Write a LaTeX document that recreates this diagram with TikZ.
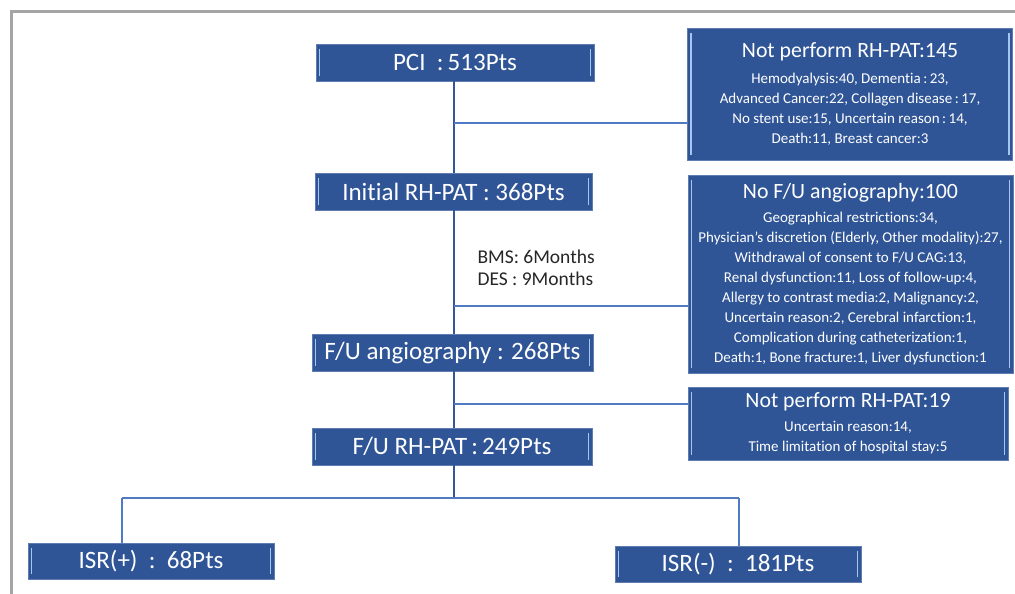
\documentclass[tikz,border=0pt]{standalone}
\usepackage{fontspec}
\setmainfont{Carlito}[Ligatures=NoCommon]
\usepackage{tikz}

\definecolor{boxblue}{RGB}{47,85,151}
\definecolor{boxedge}{RGB}{95,125,178}
\definecolor{bevelblue}{RGB}{165,198,240}
\definecolor{trunkblue}{RGB}{50,88,155}
\definecolor{linkblue}{RGB}{80,122,195}
\definecolor{framegray}{RGB}{165,165,165}

\newcommand{\headtxt}{\fontsize{21.8}{25}\selectfont}

\begin{document}
\begin{tikzpicture}[x=1pt,y=-1pt,
    every node/.append style={font=\fontsize{15}{20}\selectfont},
    box/.style={fill=boxblue,draw=boxedge,line width=0.5pt,text=white,
      inner sep=0pt,align=center,
      path picture={
        \draw[bevelblue,line width=1.6pt]
          ([xshift=3.5pt,yshift=-5pt]path picture bounding box.north west) --
          ([xshift=3.5pt,yshift=5pt]path picture bounding box.south west);
        \draw[bevelblue,line width=1.6pt]
          ([xshift=-3.5pt,yshift=-5pt]path picture bounding box.north east) --
          ([xshift=-3.5pt,yshift=5pt]path picture bounding box.south east);
      }},
    trunk/.style={draw=trunkblue,line width=2pt},
    link/.style={draw=linkblue,line width=1.3pt}]
  \tikzstyle{stepbox} = [box,minimum height=37pt,font=\fontsize{25}{30}\selectfont]
  \tikzstyle{reasonbox} = [box,minimum width=325pt]
  \useasboundingbox (0,0) rectangle (1015,594);

  % outer frame
  \draw[framegray,line width=3pt] (11,594) -- (11,12) -- (1015,12);

  \node[stepbox,minimum width=278pt] (pci) at (455,62.5) {PCI\ \ :\,513Pts};
  \node[stepbox,minimum width=277pt] (init) at (453.5,191.5) {Initial RH-PAT : 368Pts};
  \node[stepbox,minimum width=281pt] (fuang) at (452.5,352.5) {F/U angiography : 268Pts};
  \node[stepbox,minimum width=280pt] (furh) at (452,446.5) {F/U RH-PAT\,:\,249Pts};
  \node[stepbox,minimum width=246pt,minimum height=36pt] (isrpos) at (151,561) {ISR(+)\ \ :\ \ 68Pts};
  \node[stepbox,minimum width=246pt,minimum height=36pt] (isrneg) at (738,564) {ISR(-)\ \ :\ \ 181Pts};

  \node[reasonbox,minimum height=132pt] (noperf) at (850,94)
    {{\headtxt Not perform RH-PAT:145}\\[6pt]
     Hemodyalysis:40, Dementia\,:\,23,\\
     Advanced Cancer:22, Collagen disease\,:\,17,\\
     No stent use:15, Uncertain reason\,:\,14,\\
     Death:11, Breast cancer:3};
  \node[reasonbox,minimum height=198pt] (noang) at (850.5,274)
    {{\headtxt No F/U angiography:100}\\[4pt]
     Geographical restrictions:34,\\
     Physician's discretion (Elderly, Other modality):27,\\
     Withdrawal of consent to F/U CAG:13,\\
     Renal dysfunction:11, Loss of follow-up:4,\\
     Allergy to contrast media:2, Malignancy:2,\\
     Uncertain reason:2, Cerebral infarction:1,\\
     Complication during catheterization:1,\\
     Death:1, Bone fracture:1, Liver dysfunction:1};
  \node[reasonbox,minimum width=320pt,minimum height=73pt] (noperfb) at (848,423.5)
    {{\headtxt Not perform RH-PAT:19}\\[4pt]
     Uncertain reason:14,\\
     Time limitation of hospital stay:5};

  \node[anchor=west,align=left,text=black!85,font=\fontsize{19.5}{22}\selectfont] (period) at (474,268)
    {BMS: 6Months\\DES : 9Months};

  % main line
  \coordinate (t) at (454,0);
  \draw[trunk] (t |- pci.south) -- (t |- init.north);
  \draw[trunk] (t |- init.south) -- (t |- fuang.north);
  \draw[trunk] (t |- fuang.south) -- (t |- furh.north);
  \coordinate (b1) at (454,123);
  \coordinate (b2) at (454,306);
  \coordinate (b3) at (454,404);
  \draw[link] (b1) -- (b1 -| noperf.west);
  \draw[link] (b2) -- (b2 -| noang.west);
  \draw[link] (b3) -- (b3 -| noperfb.west);

  % split to ISR
  \coordinate (split) at (454,498);
  \coordinate (left) at (122,498);
  \coordinate (right) at (739,498);
  \draw[trunk] (t |- furh.south) -- (split);
  \draw[link] (left) -- (right);
  \draw[link] (left) -- (left |- isrpos.north);
  \draw[link] (right) -- (right |- isrneg.north);
\end{tikzpicture}
\end{document}
